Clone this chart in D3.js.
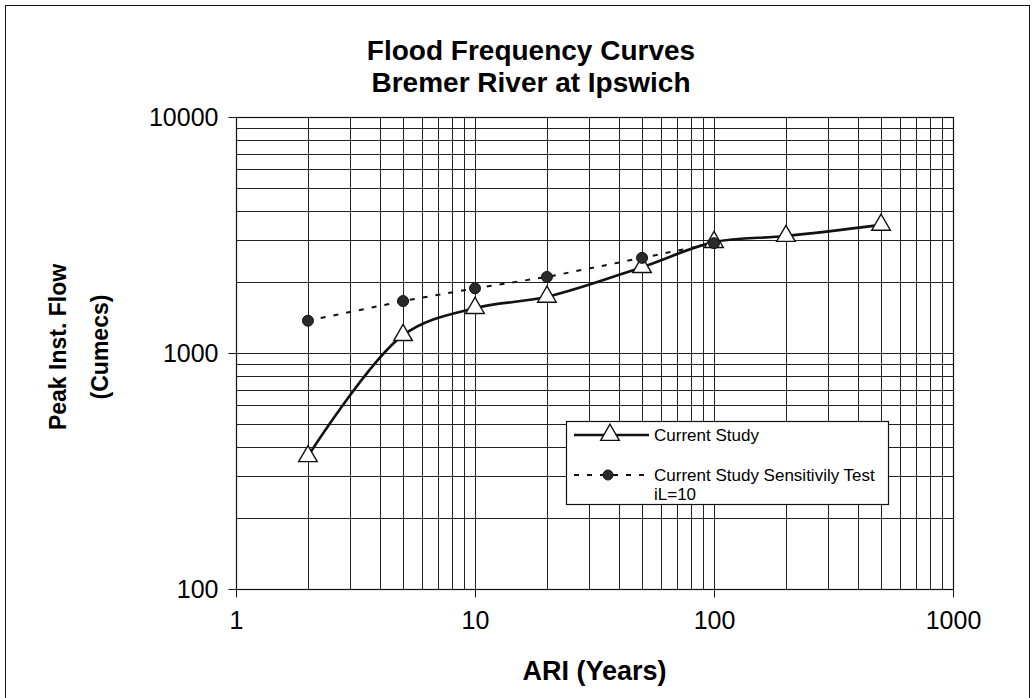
<!DOCTYPE html>
<html>
<head>
<meta charset="utf-8">
<script src="https://cdn.jsdelivr.net/npm/d3@7"></script>
<style>
  html, body { margin: 0; padding: 0; background: #fff; }
  svg { display: block; font-family: "Liberation Sans", Arial, sans-serif; }
</style>
</head>
<body>
<svg id="chart" width="1035" height="698"></svg>
<script>
// Average recurrence interval (years) and peak flows (cumecs)
const ariCurrent = [2, 5, 10, 20, 50, 100, 200, 500];
const flowCurrent = [365, 1190, 1550, 1730, 2310, 2950, 3130, 3490];
const ariSensitivity = [2, 5, 10, 20, 50, 100];
const flowSensitivity = [1370, 1660, 1880, 2100, 2530, 2920];
const xTickLabels = [1, 10, 100, 1000];
const yTickLabels = [100, 1000, 10000];
const titleLines = ["Flood Frequency Curves", "Bremer River at Ipswich"];
const legendLabels = ["Current Study", "Current Study Sensitivily Test", "iL=10"];

const svg = d3.select("#chart");
const plot = { left: 236, right: 953, top: 117, bottom: 589 };

const x = d3.scaleLog().domain([1, 1000]).range([plot.left, plot.right]);
const y = d3.scaleLog().domain([100, 10000]).range([plot.bottom, plot.top]);

// outer frame
svg.append("rect")
  .attr("x", 5.5).attr("y", 5.5).attr("width", 1024).attr("height", 700)
  .attr("fill", "none").attr("stroke", "#111").attr("stroke-width", 1);

// title
svg.append("g").selectAll("text").data(titleLines).join("text")
  .attr("x", 531).attr("y", (d, i) => 60 + i * 32)
  .attr("text-anchor", "middle")
  .attr("font-weight", "bold").attr("font-size", 28)
  .text(d => d);

// grid: every minor decade step on both axes
const xGrid = [];
for (let dec = 1; dec < 1000; dec *= 10) for (let k = 1; k <= 9; k++) xGrid.push(dec * k);
const yGrid = [];
for (let dec = 100; dec < 10000; dec *= 10) for (let k = 1; k <= 9; k++) yGrid.push(dec * k);

const grid = svg.append("g").attr("stroke", "#222").attr("stroke-width", 1);
grid.selectAll("line.v").data(xGrid.slice(1)).join("line")
  .attr("x1", d => Math.round(x(d)) + 0.5).attr("x2", d => Math.round(x(d)) + 0.5)
  .attr("y1", plot.top).attr("y2", plot.bottom);
grid.selectAll("line.h").data(yGrid.slice(1)).join("line")
  .attr("y1", d => Math.round(y(d)) + 0.5).attr("y2", d => Math.round(y(d)) + 0.5)
  .attr("x1", plot.left).attr("x2", plot.right);

// plot border
svg.append("rect")
  .attr("x", plot.left + 0.5).attr("y", plot.top + 0.5)
  .attr("width", plot.right - plot.left).attr("height", plot.bottom - plot.top)
  .attr("fill", "none").attr("stroke", "#111").attr("stroke-width", 1.2);

// axes
const xAxis = d3.axisBottom(x).tickValues(xTickLabels).tickFormat(d3.format("d"))
  .tickSize(8).tickPadding(14);
const gx = svg.append("g").attr("transform", `translate(0,${plot.bottom + 0.5})`).call(xAxis);
gx.select(".domain").remove();
gx.selectAll("text").attr("font-size", 25).attr("font-family", "Liberation Sans, Arial, sans-serif").attr("fill", "#000");
gx.selectAll("line").attr("stroke", "#111");

const yAxis = d3.axisLeft(y).tickValues(yTickLabels).tickFormat(d3.format("d"))
  .tickSize(8).tickPadding(10);
const gy = svg.append("g").attr("transform", `translate(${plot.left + 0.5},0)`).call(yAxis);
gy.select(".domain").remove();
gy.selectAll("text").attr("font-size", 25).attr("font-family", "Liberation Sans, Arial, sans-serif").attr("fill", "#000");
gy.selectAll("line").attr("stroke", "#111");

// axis titles
svg.append("text")
  .attr("x", (plot.left + plot.right) / 2).attr("y", 680)
  .attr("text-anchor", "middle").attr("font-weight", "bold").attr("font-size", 27)
  .text("ARI (Years)");
const yTitle = svg.append("text")
  .attr("transform", "translate(66,347) rotate(-90)")
  .attr("text-anchor", "middle").attr("font-weight", "bold").attr("font-size", 23);
yTitle.append("tspan").attr("x", 0).attr("dy", 0).text("Peak Inst. Flow");
yTitle.append("tspan").attr("x", 0).attr("dy", 42).text("(Cumecs)");

// series lines
const currentPts = ariCurrent.map((a, i) => [x(a), y(flowCurrent[i])]);
const sensPts = ariSensitivity.map((a, i) => [x(a), y(flowSensitivity[i])]);

svg.append("path")
  .attr("d", d3.line().curve(d3.curveCatmullRom.alpha(0.5))(currentPts))
  .attr("fill", "none").attr("stroke", "#111").attr("stroke-width", 2.6);
svg.append("path")
  .attr("d", d3.line()(sensPts))
  .attr("fill", "none").attr("stroke", "#111").attr("stroke-width", 2)
  .attr("stroke-dasharray", "5,8");

// markers
const tri = d3.symbol().type(d3.symbolTriangle).size(150);
svg.append("g").selectAll("path").data(currentPts).join("path")
  .attr("transform", d => `translate(${d[0]},${d[1]})`)
  .attr("d", tri).attr("fill", "#fff").attr("stroke", "#111").attr("stroke-width", 1.4);
svg.append("g").selectAll("circle").data(sensPts).join("circle")
  .attr("cx", d => d[0]).attr("cy", d => d[1]).attr("r", 5.5)
  .attr("fill", "#2a2a2a").attr("stroke", "#111").attr("stroke-width", 1);

// legend
const lg = svg.append("g");
lg.append("rect").attr("x", 566.5).attr("y", 421.5).attr("width", 322).attr("height", 83)
  .attr("fill", "#fff").attr("stroke", "#111").attr("stroke-width", 1.2);
lg.append("line").attr("x1", 574).attr("x2", 649).attr("y1", 435).attr("y2", 435)
  .attr("stroke", "#111").attr("stroke-width", 2.6);
lg.append("path").attr("transform", "translate(610,435)").attr("d", tri)
  .attr("fill", "#fff").attr("stroke", "#111").attr("stroke-width", 1.4);
lg.append("line").attr("x1", 574).attr("x2", 649).attr("y1", 475).attr("y2", 475)
  .attr("stroke", "#111").attr("stroke-width", 2).attr("stroke-dasharray", "5,8");
lg.append("circle").attr("cx", 608).attr("cy", 475).attr("r", 5)
  .attr("fill", "#2a2a2a").attr("stroke", "#111");
lg.selectAll("text").data(legendLabels).join("text")
  .attr("x", 654).attr("y", (d, i) => [441, 481, 500][i])
  .attr("font-size", 17).text(d => d);
</script>
</body>
</html>
